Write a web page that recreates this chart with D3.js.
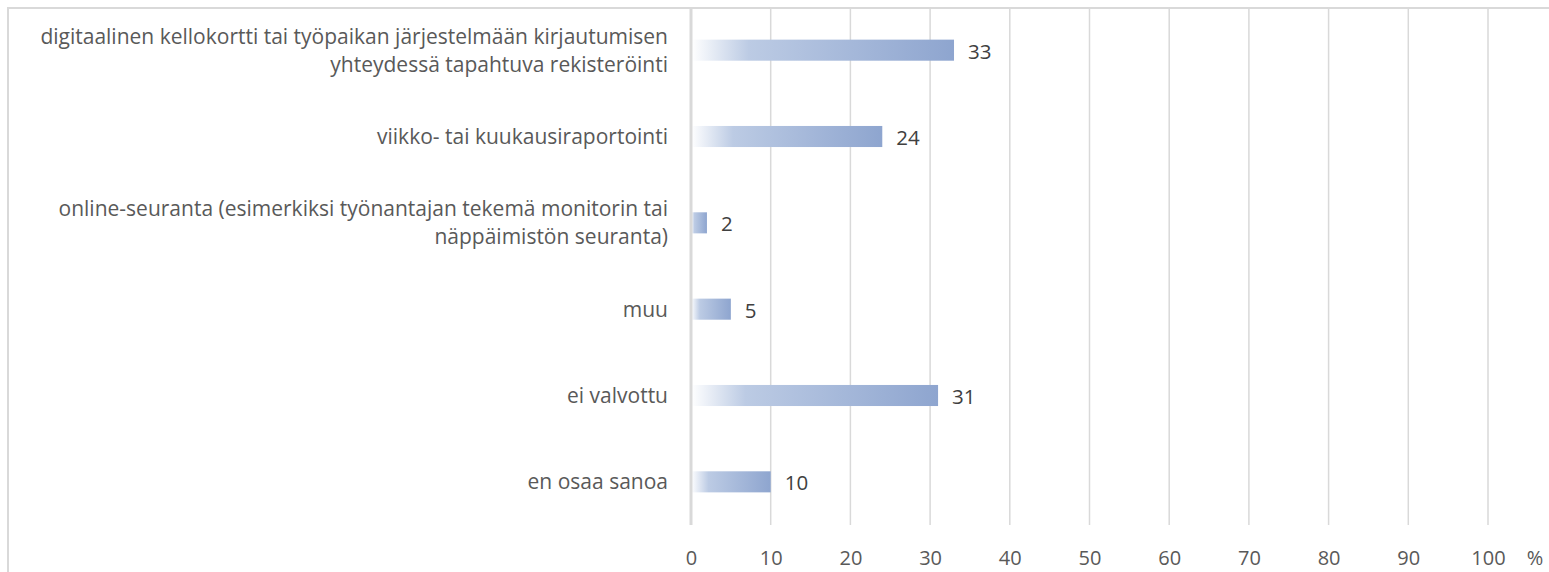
<!DOCTYPE html>
<html>
<head>
<meta charset="utf-8">
<script src="https://cdn.jsdelivr.net/npm/d3@7"></script>
<style>
  html, body { margin: 0; padding: 0; background: #fff; }
  svg { display: block; font-family: "Open Sans", "Noto Sans", sans-serif; }
  .cat { fill: #595959; font-size: 21px; }
  .tick text { fill: #595959; font-size: 20px; }
  .unit { fill: #595959; font-size: 20px; }
  .val { fill: #404040; font-size: 20.5px; }
</style>
</head>
<body>
<svg id="chart" width="1549" height="572"></svg>
<script>
// categories (top to bottom), each label split into its display lines
const categories = [
  ["digitaalinen kellokortti tai työpaikan järjestelmään kirjautumisen", "yhteydessä tapahtuva rekisteröinti"],
  ["viikko- tai kuukausiraportointi"],
  ["online-seuranta (esimerkiksi työnantajan tekemä monitorin tai", "näppäimistön seuranta)"],
  ["muu"],
  ["ei valvottu"],
  ["en osaa sanoa"]
];
const values = [33, 24, 2, 5, 31, 10];
const xTicks = [0, 10, 20, 30, 40, 50, 60, 70, 80, 90, 100];
const unitLabel = "%";

const svg = d3.select('#chart');
const W = 1549, H = 572;
const margin = {top: 7, right: 61, bottom: 47, left: 691};

// outer frame (top and left edges visible)
svg.append('path')
  .attr('d', `M8,${H} L8,8 L${W},8`)
  .attr('fill', 'none')
  .attr('stroke', '#d9d9d9')
  .attr('stroke-width', 2);

const x = d3.scaleLinear().domain([0, 100]).range([margin.left, W - margin.right]);
const y = d3.scaleBand()
  .domain(d3.range(categories.length))
  .range([margin.top, H - margin.bottom])
  .paddingInner(0.756)
  .paddingOuter(0.378);

const defs = svg.append('defs');
const grad = defs.append('linearGradient').attr('id', 'barGrad')
  .attr('x1', '0').attr('x2', '1').attr('y1', '0').attr('y2', '0');
grad.append('stop').attr('offset', '0').attr('stop-color', '#ffffff');
grad.append('stop').attr('offset', '0.22').attr('stop-color', '#bccbe4');
grad.append('stop').attr('offset', '1').attr('stop-color', '#8ea5cf');

// gridlines
svg.append('g')
  .selectAll('line')
  .data(xTicks.slice(1))
  .join('line')
  .attr('x1', d => x(d)).attr('x2', d => x(d))
  .attr('y1', margin.top).attr('y2', H - margin.bottom)
  .attr('stroke', '#d9d9d9')
  .attr('stroke-width', 1.5);

// tick labels
const axis = svg.append('g')
  .attr('transform', `translate(0,${H - margin.bottom})`)
  .call(d3.axisBottom(x).tickValues(xTicks).tickSize(0).tickPadding(26));
axis.select('.domain').remove();
axis.attr('font-family', null).attr('font-size', null);

svg.append('text')
  .attr('class', 'unit')
  .attr('x', W - 14)
  .attr('y', H - margin.bottom + 26)
  .attr('dy', '0.71em')
  .attr('text-anchor', 'middle')
  .text(unitLabel);

// bars
svg.append('g')
  .selectAll('rect')
  .data(values)
  .join('rect')
  .attr('x', x(0))
  .attr('y', (d, i) => y(i))
  .attr('width', d => x(d) - x(0))
  .attr('height', y.bandwidth())
  .attr('fill', 'url(#barGrad)');

// value labels
svg.append('g')
  .selectAll('text')
  .data(values)
  .join('text')
  .attr('class', 'val')
  .attr('x', d => x(d) + 14)
  .attr('y', (d, i) => y(i) + y.bandwidth() / 2 + 1)
  .attr('dy', '0.36em')
  .text(d => d);

// zero axis line
svg.append('line')
  .attr('x1', x(0)).attr('x2', x(0))
  .attr('y1', margin.top).attr('y2', H - margin.bottom)
  .attr('stroke', '#d9d9d9')
  .attr('stroke-width', 3);

// category labels
const lineH = 28;
const cats = svg.append('g')
  .selectAll('text')
  .data(categories)
  .join('text')
  .attr('class', 'cat')
  .attr('text-anchor', 'end')
  .attr('y', (d, i) => y(i) + y.bandwidth() / 2);
cats.selectAll('tspan')
  .data(d => d.map((t, k) => ({t, k, n: d.length})))
  .join('tspan')
  .attr('x', 668)
  .attr('dy', d => d.k === 0 ? (0.36 * 21 - (d.n - 1) * lineH / 2) : lineH)
  .text(d => d.t);
</script>
</body>
</html>
